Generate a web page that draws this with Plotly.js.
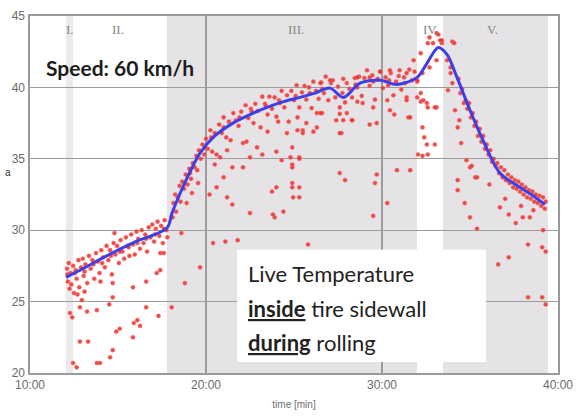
<!DOCTYPE html>
<html>
<head>
<meta charset="utf-8">
<script src="https://cdn.plot.ly/plotly-3.0.1.min.js"></script>
<style>html,body{margin:0;padding:0;background:#fff;}#chart{width:583px;height:419px;}</style>
</head>
<body>
<div id="chart"></div>
<script>
// ---- data ----
const xTickVals = [10, 20, 30, 40];
const xTickText = ['10:00', '20:00', '30:00', '40:00'];
const yTickVals = [20, 25, 30, 35, 40, 45];

const phaseNames = ['I.', 'II.', 'III.', 'IV.', 'V.'];
const phaseLabelTime = [12.3, 15.0, 25.1, 32.75, 36.3];
const shadedStart = [12.05, 17.78, 33.47];
const shadedEnd = [12.44, 31.99, 39.43];

// smoothed blue curve
const lineTime = [12.05, 13.0, 14.5, 16.0, 17.78, 18.07, 18.5, 18.9, 19.3, 19.66, 20.5, 21.53, 22.5, 23.47, 24.4, 25.34, 26.2, 27.05, 27.8, 28.75, 29.9, 30.85, 32.0, 32.56, 33.2, 33.7, 34.26, 35.0, 35.74, 36.7, 37.84, 38.6, 39.26];
const lineTemp = [26.7, 27.3, 28.3, 29.2, 30.15, 31.2, 32.5, 33.6, 34.6, 35.4, 36.6, 37.5, 38.1, 38.6, 39.0, 39.3, 39.6, 39.95, 39.3, 40.3, 40.5, 40.2, 40.7, 41.7, 42.8, 42.3, 40.7, 38.4, 36.3, 34.0, 33.0, 32.4, 31.8];

// red measured points, phase I-II
const pointsEarly = [
 [12.1,27.3],[12.15,26.4],[12.2,27.7],[12.25,25.9],[12.3,27.0],[12.35,26.2],[12.45,27.5],[12.5,25.6],[12.6,27.2],[12.65,26.6],
 [12.75,27.9],[12.8,26.0],[12.9,27.4],[13.0,28.0],[13.05,26.8],[13.15,27.6],[13.25,26.3],[13.35,28.2],[13.45,27.3],[13.55,27.9],
 [13.65,26.6],[13.75,28.4],[13.85,27.8],[13.95,27.0],[14.05,28.6],[14.15,28.1],[14.25,27.4],[14.35,28.9],[14.45,27.9],[14.55,28.6],
 [14.65,26.9],[14.75,29.1],[14.85,28.3],[14.95,28.9],[15.05,27.7],[15.15,29.3],[15.25,28.5],[15.35,28.0],[15.45,29.5],[15.55,28.9],
 [15.65,28.2],[15.75,29.7],[15.85,29.0],[15.95,28.3],[16.05,29.9],[16.15,29.4],[16.25,28.7],[16.35,30.0],[16.45,29.1],[16.55,29.7],
 [16.65,28.5],[16.75,30.2],[16.85,29.5],[16.95,30.4],[17.05,29.2],[17.15,30.1],[17.25,30.6],[17.35,29.6],[17.45,30.3],[17.55,29.1],
 [17.65,30.7],[17.75,30.0],[12.12,26.9],[12.55,27.0],[13.1,27.1],[13.6,27.6],[14.1,27.7],[14.6,28.2],[15.1,28.5],[15.6,28.8],
 [16.1,29.1],[16.6,29.4],[17.1,29.7],[17.6,30.1],
 [12.27,24.2],[12.84,24.6],[13.24,24.3],[13.8,24.4],[14.7,25.3],[14.5,24.8],[15.85,26.0],[16.6,26.4],[17.4,27.2],[17.2,27.0],
 [16.6,24.6],[17.3,24.0],[18.05,24.6],[16.1,23.7],[15.9,23.5],[16.25,23.3],[15.1,23.1],[14.9,22.9],[15.85,22.5],[12.84,22.2],
 [13.3,22.2],[14.7,21.6],[14.55,21.1],[13.8,20.7],[13.98,20.7],[12.45,20.7],[12.65,20.4],[12.4,23.9],[13.1,25.7],[12.95,25.1],
 [12.7,25.5],[14.0,26.4],[14.7,26.3],[14.8,29.8],[17.4,28.4],[17.8,29.5],[19.66,27.4],[18.8,26.3],[20.4,29.1],[21.1,29.2]
];

// phase III
const pointsMiddle = [
 [18.15,31.9],[18.25,32.5],[18.3,31.3],[18.4,32.3],[18.5,33.1],[18.55,32.0],[18.65,33.4],[18.75,32.9],[18.85,33.9],[18.95,33.2],
 [19.05,34.3],[19.15,33.6],[19.25,34.7],[19.35,34.4],[19.45,35.2],[19.5,34.2],[19.6,35.6],[19.7,35.0],[19.8,36.0],[19.9,35.3],
 [20.0,36.4],[20.1,35.7],[20.25,37.0],[20.35,35.5],[20.5,36.8],[20.6,35.3],[20.75,37.4],[20.9,36.8],[21.0,37.9],[21.15,36.5],
 [21.3,37.6],[21.4,36.3],[21.55,38.2],[21.7,37.7],[21.85,37.3],[22.0,38.3],[22.1,36.1],[22.25,38.75],[22.4,37.85],[22.55,38.5],
 [22.7,37.5],[22.8,38.85],[22.95,38.35],[23.1,37.2],[23.2,39.35],[23.35,38.85],[23.5,38.1],[23.6,39.35],[23.75,38.5],[23.9,39.3],
 [24.0,37.95],[24.15,39.1],[24.3,39.75],[24.45,38.6],[24.6,39.45],[24.7,37.6],[24.85,39.75],[25.0,39.1],[25.15,40.15],[25.3,38.6],
 [25.45,39.65],[25.6,40.1],[25.7,39.15],[25.85,40.0],[26.0,38.55],[26.1,40.4],[26.25,39.75],[26.4,39.2],[26.55,40.35],[26.7,39.6],
 [26.8,40.75],[26.95,39.1],[27.1,40.3],[27.2,40.5],[27.35,39.3],[27.5,40.05],[27.6,38.15],[27.75,39.6],[27.9,38.95],[28.0,40.3],
 [28.15,39.9],[28.3,39.3],[28.45,40.65],[28.6,40.0],[28.7,40.75],[28.85,39.4],[29.0,40.65],[29.15,41.2],[29.3,40.1],[29.45,40.85],
 [29.6,39.15],[29.75,40.6],[29.9,41.1],[30.05,39.95],[30.2,40.7],[30.35,40.15],[30.5,41.0],[30.65,39.45],[30.8,40.4],[30.95,40.8],
 [31.1,39.85],[31.25,40.7],[31.4,39.3],[31.55,41.25],[31.7,40.5],[31.85,41.1],[32.0,40.4],
 [20.3,36.5],[21.0,37.2],[21.9,37.9],[22.6,38.3],[23.4,38.7],[24.2,38.9],[25.1,39.4],[25.9,39.6],[26.6,39.9],[28.5,40.2],
 [29.5,40.4],[30.4,40.5],[31.3,40.3],[19.1,34.0],[19.95,35.8],
 [18.6,29.8],[18.1,30.9],[17.6,28.4],[18.9,31.9],[19.2,32.6],[19.55,33.3],[20.2,32.5],[20.6,33.0],[21.2,32.3],[21.5,31.8],
 [22.5,31.2],[23.9,30.9],[24.4,31.3],[23.8,31.1],[23.75,32.7],[24.0,33.0],[24.95,32.3],[25.3,33.0],[24.9,33.3],[27.9,33.5],
 [21.0,33.7],[21.5,34.4],[22.1,34.4],[22.5,35.1],[23.2,35.3],[24.3,34.9],[24.9,34.6],[25.3,35.1],[24.0,35.5],[22.3,36.2],
 [22.9,35.8],[23.5,36.9],[24.1,37.6],[24.6,36.8],[25.2,37.0],[25.7,37.5],[26.3,38.2],[26.6,38.2],[27.4,37.7],[27.7,36.8],
 [28.3,37.7],[21.2,35.6],[20.8,35.1],[20.5,34.6],[25.2,37.9],[25.5,37.0],[26.5,38.2],[26.3,37.2],[27.6,38.6],[28.0,38.2],
 [27.8,37.7],[28.3,37.7],[27.6,36.8],[28.9,38.9],[29.5,38.6],[29.7,37.5],[29.3,37.4],[30.3,39.1],[30.45,38.4],[30.7,38.1],
 [31.4,39.1],[31.5,37.9],[30.85,34.2],[31.6,34.2],[29.7,33.9],[29.6,33.3],[24.9,35.8],[24.8,35.1],[25.3,35.0],[24.9,34.4],
 [24.9,33.0],[25.3,32.3],[25.5,36.8],[26.1,36.9],[27.6,34.0],[21.8,29.3],[25.8,29.0],[29.5,31.0],[30.3,31.9],[28.6,39.0]
];

// phase IV-V
const pointsLate = [
 [31.8,41.9],[32.2,42.4],[32.6,43.1],[32.7,43.5],[33.1,43.8],[33.3,43.3],[33.4,43.1],[32.9,43.1],[34.0,43.2],[33.7,41.9],
 [33.9,41.4],[33.1,41.9],[32.7,41.4],[32.3,41.0],[32.0,40.5],[31.4,41.0],[31.0,41.2],[30.45,41.2],[29.9,41.1],[29.3,40.7],
 [28.6,40.7],[27.8,40.6],[27.05,40.5],[26.5,40.3],[33.2,43.7],[33.4,43.3],[34.1,43.1],[33.9,41.0],[34.0,40.3],[33.75,39.8],
 [34.15,38.4],[34.4,37.7],[34.3,37.2],[34.5,36.1],[35.0,34.4],[35.3,33.7],[34.3,33.5],[34.3,32.8],[34.7,31.9],[35.0,30.9],
 [35.4,30.1],[36.7,31.6],[37.2,31.1],[37.6,30.5],[38.0,30.9],[38.4,30.9],[39.15,30.0],[38.3,29.0],[39.1,28.8],[39.3,28.5],
 [37.2,28.1],[36.6,27.6],[38.3,25.3],[39.1,25.3],[39.3,24.8],
 [32.3,37.2],[32.4,36.5],[32.55,36.0],[33.0,36.0],[32.05,35.3],[32.3,35.2],[32.6,35.3],[31.6,37.9],[33.1,38.6],[32.55,38.9],
 [32.0,39.3],[32.2,39.0],[32.6,38.6],[33.0,38.6],[32.35,39.1],[32.2,39.6],
 [34.35,40.6],[34.45,39.6],[34.55,39.9],[34.65,38.9],[34.75,39.1],[34.85,38.5],[34.95,38.9],[35.05,37.9],[35.15,38.2],[35.25,37.3],
 [35.35,37.6],[35.45,36.6],[35.55,37.1],[35.65,36.2],[35.75,36.6],[35.85,35.7],[35.95,36.0],[36.05,35.3],[36.15,35.6],[36.25,34.8],
 [36.35,35.0],[36.45,34.5],[36.55,34.7],[36.65,34.0],[36.75,34.4],[36.85,33.7],[36.95,34.2],[37.05,33.5],[37.15,33.9],[37.25,33.3],
 [37.35,33.7],[37.45,33.0],[37.55,33.5],[37.65,32.9],[37.75,33.4],[37.85,32.7],[37.95,33.2],[38.05,32.5],[38.15,33.0],[38.25,32.3],
 [38.35,32.8],[38.45,32.2],[38.55,32.7],[38.65,32.0],[38.75,32.5],[38.85,31.9],[38.95,32.4],[39.05,31.7],[39.15,32.3],[39.25,31.5],
 [39.3,32.0],[34.8,34.9],[35.1,34.5],[35.4,33.7],[36.1,33.2],[37.0,32.2],[37.9,31.7],[38.6,31.4]
];

// ---- build ----
const allPoints = pointsEarly.concat(pointsMiddle, pointsLate);
const scatterTrace = {
  x: allPoints.map(p => p[0]),
  y: allPoints.map(p => p[1]),
  type: 'scatter', mode: 'markers',
  marker: {size: 4.2, color: 'rgba(236,45,45,0.85)', line: {width: 0.6, color: 'rgba(240,120,110,0.8)'}},
  hoverinfo: 'skip', showlegend: false
};
const lineTrace = {
  x: lineTime, y: lineTemp,
  type: 'scatter', mode: 'lines',
  line: {color: '#3d3ee6', width: 3, shape: 'spline', smoothing: 0.9},
  hoverinfo: 'skip', showlegend: false
};

const shapes = shadedStart.map((s, i) => ({
  type: 'rect', xref: 'x', yref: 'paper', x0: s, x1: shadedEnd[i], y0: 0, y1: 1,
  fillcolor: i === 0 ? '#ebe9ec' : '#e6e3e7', line: {width: 0}, layer: 'below'
}));
shapes.push({type: 'rect', xref: 'paper', yref: 'paper', x0: 0.392, x1: 0.864, y0: 0.031, y1: 0.345,
  fillcolor: '#ffffff', line: {width: 0}, layer: 'above'});

const annotations = phaseNames.map((n, i) => ({
  x: phaseLabelTime[i], xref: 'x', y: 0.988, yref: 'paper', yanchor: 'top', text: n, showarrow: false,
  font: {family: 'Liberation Serif', size: 13, color: '#858585'}
}));
annotations.push(
  {x: 0.026, xref: 'paper', y: 0.855, yref: 'paper', xanchor: 'left', yanchor: 'middle', showarrow: false,
   text: '<b>Speed: 60 km/h</b>', font: {family: 'Lato', size: 21, color: '#1c1c1c'}},
  {x: 0.41, xref: 'paper', y: 0.278, yref: 'paper', xanchor: 'left', yanchor: 'middle', showarrow: false,
   text: 'Live Temperature', font: {family: 'Lato', size: 22, color: '#222'}},
  {x: 0.41, xref: 'paper', y: 0.18, yref: 'paper', xanchor: 'left', yanchor: 'middle', showarrow: false,
   text: '<b><u>inside</u></b> tire sidewall', font: {family: 'Lato', size: 22, color: '#222'}},
  {x: 0.41, xref: 'paper', y: 0.085, yref: 'paper', xanchor: 'left', yanchor: 'middle', showarrow: false,
   text: '<b><u>during</u></b> rolling', font: {family: 'Lato', size: 22, color: '#222'}},
  {x: -0.052, xref: 'paper', y: 0.563, yref: 'paper', xanchor: 'left', showarrow: false,
   text: 'a', font: {family: 'Liberation Sans', size: 10, color: '#333'}}
);

const layout = {
  width: 583, height: 419,
  margin: {l: 30, r: 25, t: 16, b: 46, pad: 0},
  paper_bgcolor: '#ffffff', plot_bgcolor: '#ffffff',
  showlegend: false,
  xaxis: {
    range: [10, 40], tickvals: xTickVals, ticktext: xTickText,
    showgrid: true, gridcolor: '#9c9c9c', gridwidth: 1.3,
    showline: true, mirror: true, linecolor: '#9a9a9a', linewidth: 1.6,
    ticks: '', zeroline: false,
    tickfont: {family: 'Liberation Sans Narrow, Liberation Sans', size: 12, color: '#6a6a6a'},
    title: {text: 'time [min]', font: {family: 'Liberation Sans', size: 10, color: '#707070'}, standoff: 10}
  },
  yaxis: {
    range: [20, 45], tickvals: yTickVals,
    showgrid: true, gridcolor: '#9c9c9c', gridwidth: 1.3,
    showline: true, mirror: true, linecolor: '#9a9a9a', linewidth: 1.6,
    ticks: '', zeroline: false, ticklabelstandoff: 1,
    tickfont: {family: 'Liberation Sans Narrow, Liberation Sans', size: 12, color: '#6a6a6a'}
  },
  shapes: shapes,
  annotations: annotations
};

Plotly.newPlot('chart', [scatterTrace, lineTrace], layout, {displayModeBar: false, staticPlot: true});
</script>
</body>
</html>
